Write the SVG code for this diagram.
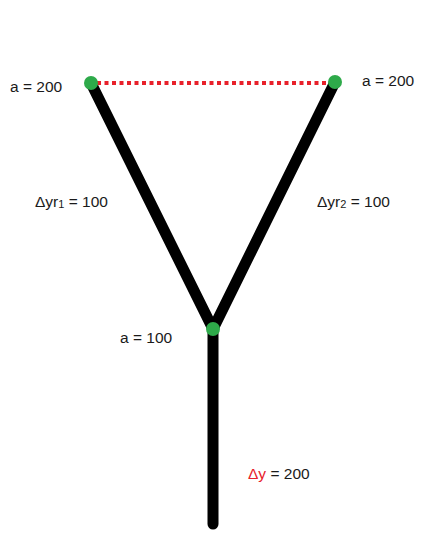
<svg xmlns="http://www.w3.org/2000/svg" width="423" height="533" viewBox="0 0 423 533">
<style>
.t{font-family:"Liberation Sans","DejaVu Sans",sans-serif;font-size:15.5px;fill:#1a1a1a}
.r{fill:#e8202a}
.bar{stroke:#000;stroke-width:11;stroke-linecap:round;fill:none}
.dot{fill:#2eaa4a}
</style>
<rect width="423" height="533" fill="#fff"/>
<g id="connectors">
<line class="bar" x1="91" y1="83" x2="213" y2="329"/>
<line class="bar" x1="335" y1="82" x2="213" y2="329"/>
<line class="bar" x1="213" y1="329" x2="213" y2="524"/>
<line x1="97" y1="83" x2="330" y2="83" stroke="#e8202a" stroke-width="4" stroke-dasharray="4 3.5"/>
</g>
<g id="node-left"><circle class="dot" cx="91" cy="83" r="7"/><text class="t" x="10" y="92">a = 200</text></g>
<g id="node-right"><circle class="dot" cx="335" cy="82" r="7"/><text class="t" x="362" y="86">a = 200</text></g>
<g id="node-mid"><circle class="dot" cx="213" cy="329" r="7"/><text class="t" x="120" y="343">a = 100</text></g>
<g id="labels">
<text class="t" x="35" y="207">Δyr<tspan font-size="11" dy="1">1</tspan><tspan dy="-1"> = 100</tspan></text>
<text class="t" x="317" y="207">Δyr<tspan font-size="11" dy="1">2</tspan><tspan dy="-1"> = 100</tspan></text>
<text class="t" x="248" y="479"><tspan class="r">Δy</tspan> = 200</text>
</g>
</svg>
